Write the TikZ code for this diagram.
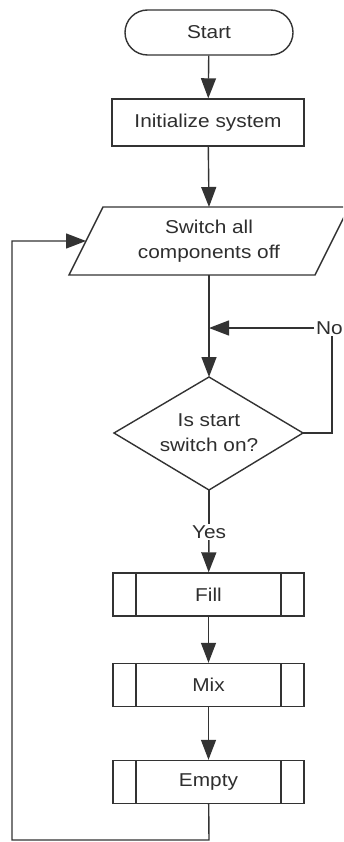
\documentclass[tikz,border=0pt]{standalone}
\usepackage{fontspec}
\setmainfont[FakeStretch=1.12]{Liberation Sans}
\usetikzlibrary{arrows.meta}
\definecolor{lc}{HTML}{333333}
\definecolor{tc}{HTML}{2E2E2E}
\begin{document}
\begin{tikzpicture}[x=1pt,y=-1pt,line width=1.4pt,color=lc,
  every node/.style={font=\fontsize{18.6}{25}\selectfont,text=tc,inner sep=0pt,align=center},
  box/.style={draw=lc,minimum width=192,minimum height=46},
  term/.style={box,rounded corners=22.5,minimum width=168,minimum height=45},
  proc/.style={box,minimum width=191,minimum height=43,
    path picture={
      \draw[lc,line width=1.4pt] ([xshift=23pt]path picture bounding box.north west) -- ([xshift=23pt]path picture bounding box.south west);
      \draw[lc,line width=1.4pt] ([xshift=-23pt]path picture bounding box.north east) -- ([xshift=-23pt]path picture bounding box.south east);}},
  arr/.style={-{Triangle[length=20pt,width=15pt]}},
  lbl/.style={fill=white,inner sep=1pt}]
\useasboundingbox (0,0) rectangle (343,842);
\clip (0,0) rectangle (343,842);

% nodes
\node[term] (start) at (209,32.5) {Start};
\node[box,minimum height=47] (init) at (208,122.5) {Initialize system};
% parallelogram
\coordinate (ptl) at (103,207);
\coordinate (ptr) at (349,207);
\coordinate (pbr) at (315,275);
\coordinate (pbl) at (69,275);
\draw[lc] (ptl) -- (ptr) -- (pbr) -- (pbl) -- cycle;
\node (sw) at (209,241) {Switch all\\components off};
\coordinate (swtop) at (209,207);
\coordinate (swbot) at (209,275);
\coordinate (swleft) at (86,241);
% diamond
\coordinate (dt) at (209,377);
\coordinate (dr) at (303,433);
\coordinate (db) at (209,490);
\coordinate (dl) at (114,433);
\draw[lc] (dt) -- (dr) -- (db) -- (dl) -- cycle;
\node (dec) at (209,433) {Is start\\switch on?};
% labels
\node[lbl] (no) at (329.5,328) {No};
\node[lbl] (yes) at (209,532) {Yes};
% processes
\node[proc] (fill) at (208.5,594.5) {Fill};
\node[proc] (mix) at (208.5,685) {Mix};
\node[proc] (empty) at (208.5,782) {Empty};
% junction / corner coordinates
\coordinate (junc) at (209,328);
\coordinate (loopA) at (209,840);
\coordinate (loopB) at (12,840);
\coordinate (loopC) at (12,241);
\coordinate (noC) at (332,433);

% connectors
\draw[arr] (start) -- (init);
\draw[arr] (init) -- (swtop);
\draw[arr] (swbot) -- (dt);
\draw (dr) -- (noC) -- (noC |- no.south);
\draw[arr] (no) -- (junc);
\draw (db) -- (yes);
\draw[arr] (yes) -- (fill);
\draw[arr] (fill) -- (mix);
\draw[arr] (mix) -- (empty);
\draw[arr] (empty) -- (loopA) -- (loopB) -- (loopC) -- (swleft);
\end{tikzpicture}
\end{document}
